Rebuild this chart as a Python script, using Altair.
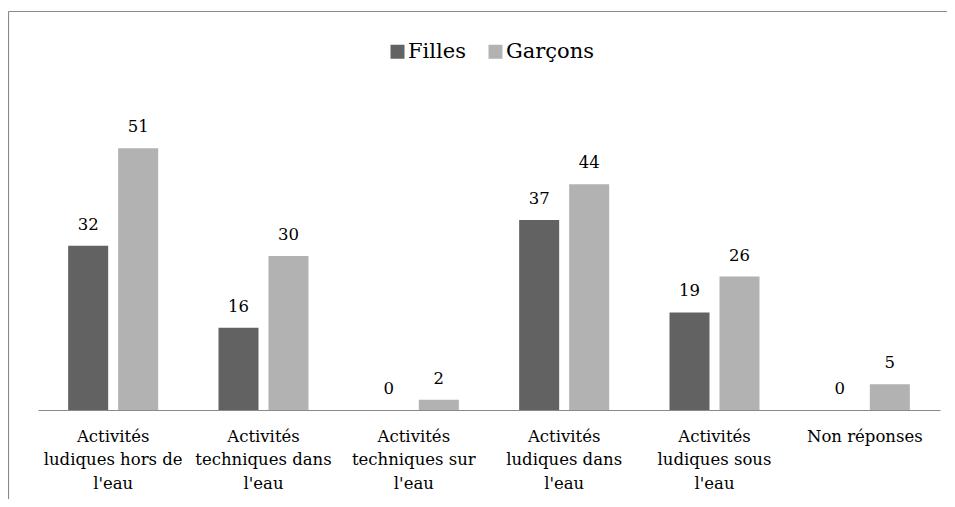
import altair as alt
import pandas as pd

categories = [
    "Activités|ludiques hors de|l'eau",
    "Activités|techniques dans|l'eau",
    "Activités|techniques sur|l'eau",
    "Activités|ludiques dans|l'eau",
    "Activités|ludiques sous|l'eau",
    "Non réponses",
]
series = ["Filles", "Garçons"]
filles = [32, 16, 0, 37, 19, 0]
garcons = [51, 30, 2, 44, 26, 5]
colors = ["#626262", "#b2b2b2"]

rows = []
for c, f, g in zip(categories, filles, garcons):
    rows.append({"cat": c, "serie": "Filles", "val": f})
    rows.append({"cat": c, "serie": "Garçons", "val": g})
df = pd.DataFrame(rows)

FONT = "DejaVu Serif"

x_enc = alt.X(
    "cat:N",
    sort=categories,
    title=None,
    scale=alt.Scale(paddingInner=0, paddingOuter=0),
    axis=alt.Axis(
        labelExpr="split(datum.label, '|')",
        labelAngle=0,
        labelFont=FONT,
        labelFontSize=16.5,
        labelColor="black",
        labelLineHeight=23.5,
        labelPadding=18,
        ticks=False,
        domainColor="#8a8a8a",
        domainWidth=1.2,
        labelLimit=300,
        grid=False,
    ),
)
xoff = alt.XOffset(
    "serie:N",
    sort=series,
    scale=alt.Scale(paddingInner=0.2, paddingOuter=0.603),
)
y_enc = alt.Y("val:Q", scale=alt.Scale(domain=[0, 60]), axis=None)

base = alt.Chart(df)

bars = base.mark_bar().encode(
    x=x_enc,
    xOffset=xoff,
    y=y_enc,
    color=alt.Color(
        "serie:N",
        sort=series,
        scale=alt.Scale(domain=series, range=colors),
        legend=alt.Legend(
            title=None,
            orient="none",
            direction="horizontal",
            legendX=349,
            legendY=-61,
            labelFont=FONT,
            labelFontSize=21,
            labelColor="black",
            symbolType="square",
            symbolSize=196,
            symbolStrokeWidth=0,
            labelOffset=0,
            columnPadding=19,
        ),
    ),
)

text = base.mark_text(
    font=FONT, fontSize=16.5, color="black", baseline="alphabetic", dy=-16
).encode(x=x_enc, xOffset=xoff, y=y_enc, text="val:Q")

border_data = alt.Data(values=[{"k": 1}])
top_line = alt.Chart(border_data).mark_rule(color="#8a8a8a", strokeWidth=1.2).encode(
    x=alt.value(-29.5), x2=alt.value(910), y=alt.value(-90.5)
)
left_line = alt.Chart(border_data).mark_rule(color="#8a8a8a", strokeWidth=1.2).encode(
    x=alt.value(-29.5), y=alt.value(-90.5), y2=alt.value(400)
)

chart = (
    alt.layer(bars, text, top_line, left_line)
    .properties(
        width=902,
        height=308,
        padding={"left": 30, "top": 94, "right": 7, "bottom": 89},
        autosize=alt.AutoSizeParams(type="none"),
    )
    .configure_view(stroke=None)
)

chart.save("out.html", embed_options={"renderer": "svg", "actions": False})
